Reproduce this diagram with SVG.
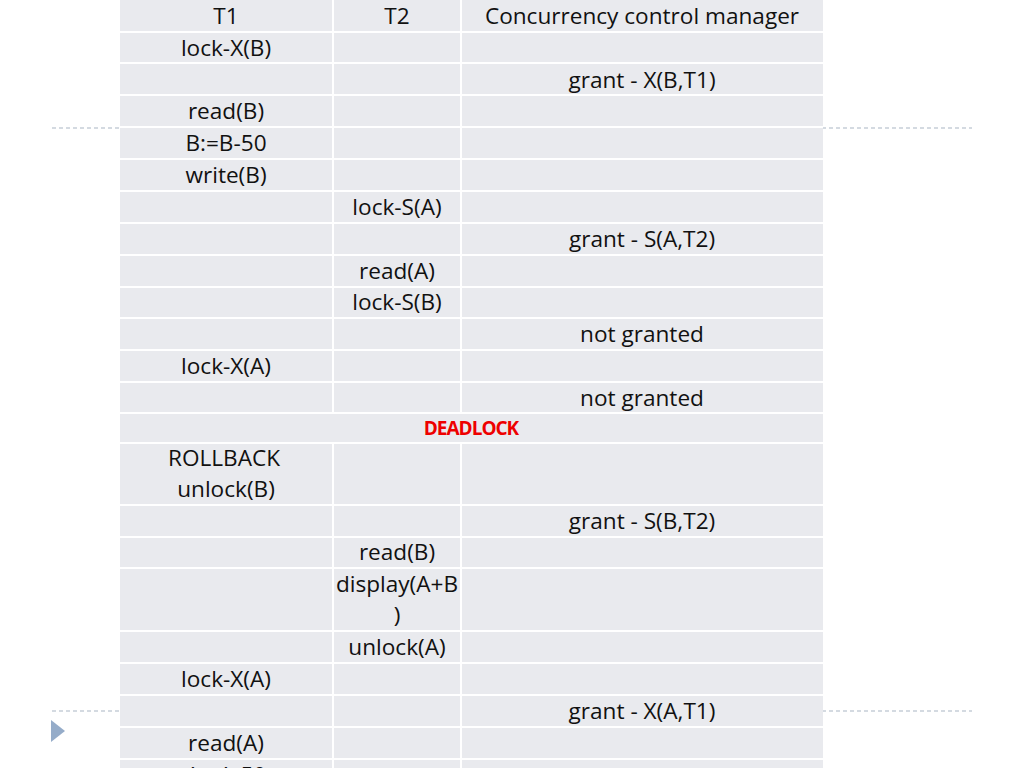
<svg xmlns="http://www.w3.org/2000/svg" width="1024" height="768" viewBox="0 0 1024 768">
<style>
text{font-family:"Open Sans","Noto Sans",sans-serif;font-size:22.6px;fill:#111;text-anchor:middle}
.g{stroke:#fff;stroke-width:2}
.d{stroke:#a9b6c4;stroke-width:1.2;stroke-dasharray:4 3}
</style>
<rect width="1024" height="768" fill="#fff"/>
<line class="d" x1="52" y1="128" x2="972" y2="128"/>
<line class="d" x1="52" y1="711" x2="972" y2="711"/>
<polygon points="51,720 65,731 51,742" fill="#95acc9"/>
<g id="table">
<rect x="120" y="0" width="703" height="768" fill="#e9eaee"/>
<g class="g">
<line x1="333" y1="0" x2="333" y2="413"/><line x1="461" y1="0" x2="461" y2="413"/>
<line x1="333" y1="443" x2="333" y2="768"/><line x1="461" y1="443" x2="461" y2="768"/>
<line x1="120" y1="32" x2="823" y2="32"/><line x1="120" y1="63" x2="823" y2="63"/>
<line x1="120" y1="95" x2="823" y2="95"/><line x1="120" y1="127" x2="823" y2="127"/>
<line x1="120" y1="159" x2="823" y2="159"/><line x1="120" y1="191" x2="823" y2="191"/>
<line x1="120" y1="223" x2="823" y2="223"/><line x1="120" y1="255" x2="823" y2="255"/>
<line x1="120" y1="287" x2="823" y2="287"/><line x1="120" y1="318" x2="823" y2="318"/>
<line x1="120" y1="350" x2="823" y2="350"/><line x1="120" y1="382" x2="823" y2="382"/>
<line x1="120" y1="413" x2="823" y2="413"/><line x1="120" y1="443" x2="823" y2="443"/>
<line x1="120" y1="505" x2="823" y2="505"/><line x1="120" y1="537" x2="823" y2="537"/>
<line x1="120" y1="568" x2="823" y2="568"/><line x1="120" y1="631" x2="823" y2="631"/>
<line x1="120" y1="663" x2="823" y2="663"/><line x1="120" y1="695" x2="823" y2="695"/>
<line x1="120" y1="727" x2="823" y2="727"/><line x1="120" y1="759" x2="823" y2="759"/>
</g>
<text x="226" y="24">T1</text><text x="397" y="24">T2</text><text x="642" y="24">Concurrency control manager</text>
<text x="226" y="56">lock-X(B)</text>
<text x="642" y="88">grant - X(B,T1)</text>
<text x="226" y="119">read(B)</text>
<text x="226" y="151">B:=B-50</text>
<text x="226" y="183">write(B)</text>
<text x="397" y="215">lock-S(A)</text>
<text x="642" y="247">grant - S(A,T2)</text>
<text x="397" y="279">read(A)</text>
<text x="397" y="310">lock-S(B)</text>
<text x="642" y="342">not granted</text>
<text x="226" y="374">lock-X(A)</text>
<text x="642" y="406">not granted</text>
<text x="471" y="435" style="font-size:19px;font-weight:bold;fill:#e00;font-family:'Open Sans',sans-serif;letter-spacing:-1px">DEADLOCK</text>
<text x="224" y="466">ROLLBACK</text>
<text x="226" y="497">unlock(B)</text>
<text x="642" y="529">grant - S(B,T2)</text>
<text x="397" y="560">read(B)</text>
<text x="397" y="592">display(A+B</text>
<text x="397" y="623">)</text>
<text x="397" y="655">unlock(A)</text>
<text x="226" y="687">lock-X(A)</text>
<text x="642" y="719">grant - X(A,T1)</text>
<text x="226" y="751">read(A)</text>
<text x="226" y="783">A:=A-50</text>
</g>
</svg>
